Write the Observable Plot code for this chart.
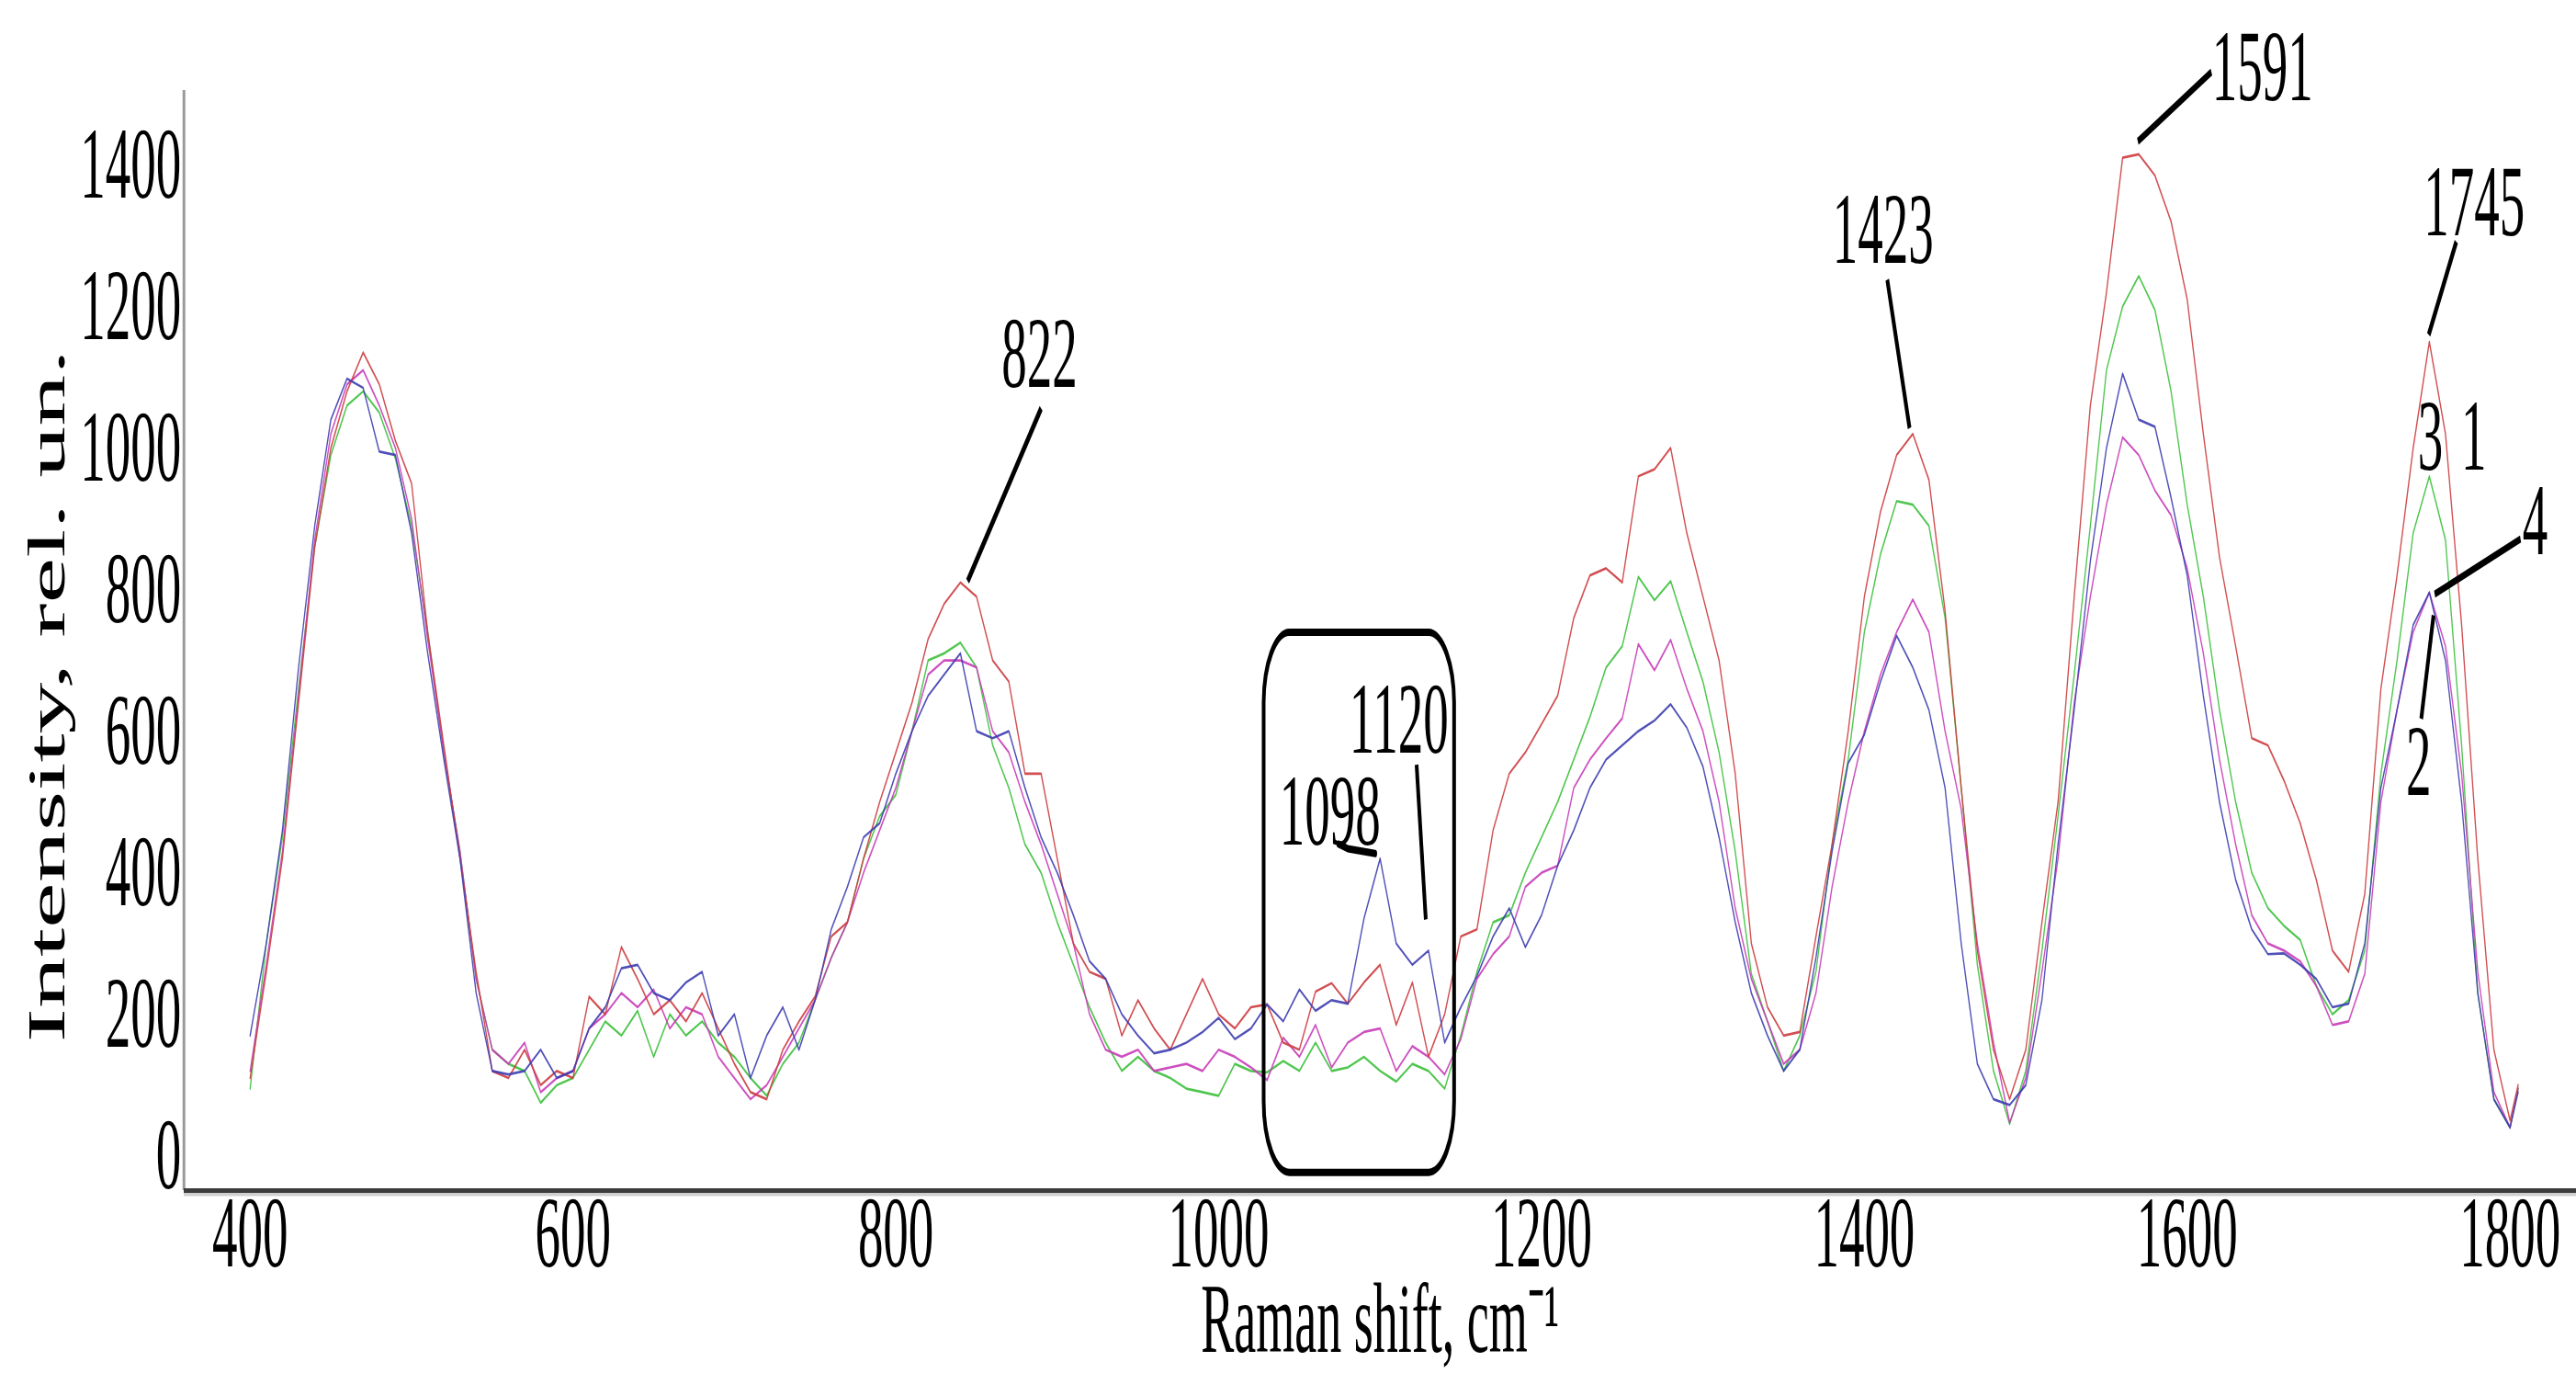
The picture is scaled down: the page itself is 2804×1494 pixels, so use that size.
<!DOCTYPE html>
<html><head><meta charset="utf-8">
<script src="https://cdn.jsdelivr.net/npm/d3@7"></script>
<script src="https://cdn.jsdelivr.net/npm/@observablehq/plot@0.6"></script>
<style>html,body{margin:0;padding:0;background:#fff;} #chart{width:2804px;height:1494px;overflow:hidden;}</style>
</head><body><div id="chart"></div>
<script>
// Raman shift grid (cm-1)
const shift = [400,410,420,430,440,450,460,470,480,490,
 500,510,520,530,540,550,560,570,580,590,
 600,610,620,630,640,650,660,670,680,690,
 700,710,720,730,740,750,760,770,780,790,
 800,810,820,830,840,850,860,870,880,890,
 900,910,920,930,940,950,960,970,980,990,
 1000,1010,1020,1030,1040,1050,1060,1070,1080,1090,
 1100,1110,1120,1130,1140,1150,1160,1170,1180,1190,
 1200,1210,1220,1230,1240,1250,1260,1270,1280,1290,
 1300,1310,1320,1330,1340,1350,1360,1370,1380,1390,
 1400,1410,1420,1430,1440,1450,1460,1470,1480,1490,
 1500,1510,1520,1530,1540,1550,1560,1570,1580,1590,
 1600,1610,1620,1630,1640,1650,1660,1670,1680,1690,
 1700,1710,1720,1730,1740,1750,1760,1770,1780,1790,
 1800,1805];

// spectrum 1 (red)
const s1 = [110,260,420,640,860,1000,1080,1135,1090,1010,
 950,740,580,420,260,120,110,150,100,120,
 110,225,200,295,250,200,220,190,230,180,
 130,90,80,150,190,225,310,330,420,500,
 570,640,730,780,810,790,700,670,540,540,
 420,300,260,250,170,220,180,150,200,250,
 200,180,210,214,160,150,232,244,215,245,
 270,185,245,140,200,310,320,460,540,570,
 610,650,760,820,830,810,960,970,1000,880,
 790,700,540,300,210,170,175,310,440,600,
 790,910,990,1020,955,770,520,290,150,80,
 150,330,500,790,1060,1220,1410,1415,1385,1320,
 1210,1020,846,720,590,580,530,470,390,290,
 260,370,660,820,1000,1150,1020,750,420,150,
 50,100];

// spectrum 2 (blue)
const s2 = [170,300,460,690,890,1040,1098,1085,995,990,
 880,710,560,420,230,120,115,120,150,110,
 120,180,210,265,270,230,220,245,260,170,
 200,110,170,210,150,220,320,380,450,470,
 540,600,650,680,710,600,590,600,520,450,
 400,340,275,250,200,170,145,150,160,175,
 195,165,180,214,190,235,205,220,215,335,
 420,300,270,290,160,210,254,310,350,295,
 340,410,460,520,560,580,600,615,638,605,
 550,450,330,230,170,120,150,280,430,555,
 595,670,735,690,630,520,300,130,80,72,
 100,220,440,630,840,1000,1105,1040,1030,930,
 820,650,500,390,320,285,286,270,250,210,
 215,300,520,630,750,796,700,500,230,80,
 40,90];

// spectrum 3 (green)
const s3 = [95,300,450,660,860,990,1060,1080,1050,985,
 890,740,570,430,250,150,130,120,75,100,
 110,150,190,170,205,140,200,170,190,160,
 140,110,85,130,160,220,280,330,420,480,
 510,600,700,710,725,690,580,520,440,400,
 330,270,210,160,120,140,120,110,95,90,
 85,130,120,118,134,120,160,120,125,140,
 120,105,130,120,95,170,260,330,340,400,
 450,500,560,620,690,720,818,785,812,740,
 670,570,430,257,190,120,170,260,440,560,
 740,850,925,920,890,760,520,270,120,45,
 120,290,480,680,890,1110,1200,1243,1195,1080,
 920,790,630,500,400,350,325,305,240,200,
 220,290,540,700,880,960,870,580,230,80,
 40,95];

// spectrum 4 (magenta)
const s4 = [120,270,430,650,870,1020,1090,1110,1060,1000,
 900,730,570,430,250,150,130,160,90,110,
 120,180,200,230,210,235,180,210,200,140,
 110,80,100,140,180,220,280,330,400,460,
 520,600,680,700,700,690,600,570,500,440,
 370,300,200,150,140,150,120,125,130,120,
 150,140,125,107,167,140,185,125,160,175,
 180,120,155,140,115,165,250,285,310,380,
 400,410,520,560,590,618,723,686,729,660,
 600,500,350,250,190,130,150,230,380,500,
 600,680,740,786,740,600,490,300,160,47,
 110,260,420,640,790,920,1015,990,940,905,
 830,710,560,440,340,300,290,275,240,185,
 190,257,500,630,740,796,720,540,260,90,
 40,95];

const xTicks = [400,600,800,1000,1200,1400,1600,1800];
const yTicks = [0,200,400,600,800,1000,1200,1400];
const seriesKeys = ["1","2","3","4"];
const seriesColors = ["#cc3b3e","#3d3db0","#3cc03c","#c83cb8"];

// peak labels (wavenumber, intensity of text baseline)
const peakLabels = [
  {label:"822", shift:889, intensity:1086},
  {label:"1098", shift:1069, intensity:440},
  {label:"1120", shift:1111.7, intensity:569},
  {label:"1423", shift:1411.6, intensity:1261},
  {label:"1591", shift:1646.7, intensity:1492},
  {label:"1745", shift:1777.8, intensity:1300},
  {label:"3", shift:1750.6, intensity:969},
  {label:"1", shift:1777.6, intensity:969},
  {label:"4", shift:1815.5, intensity:850},
  {label:"2", shift:1743.4, intensity:510}
];
const leaders = [
  {x1:890, y1:1056, x2:844.5, y2:812},
  {x1:1122.6, y1:552.6, x2:1128.3, y2:334},
  {x1:1414.2, y1:1237.7, x2:1428, y2:1028},
  {x1:1615, y1:1531, x2:1569.4, y2:1433},
  {x1:1766.7, y1:1291.4, x2:1749.6, y2:1160},
  {x1:1806.5, y1:871.4, x2:1753.3, y2:793.5},
  {x1:1752.6, y1:763.6, x2:1745, y2:617.5}
];
const kinkShift = [1074.2, 1079.9, 1097];
const kinkIntensity = [440.5, 434, 427];
const boxRegion = [{x1:1028, x2:1146, y1:-24, y2:739}];

const rows = [];
const order = [[ "3", s3 ], [ "4", s4 ], [ "1", s1 ], [ "2", s2 ]];
for (const [key, vals] of order) {
  for (let i = 0; i < shift.length; i++) rows.push({shift: shift[i], intensity: vals[i], series: key});
}
const kink = kinkShift.map((s, i) => ({shift: s, intensity: kinkIntensity[i]}));

const font = "'Liberation Serif', 'Times New Roman', serif";
const chart = Plot.plot({
  width: 5608, height: 1494,
  marginLeft: 400, marginRight: 0, marginTop: 98, marginBottom: 199,
  x: {domain: [359, 1841]},
  y: {domain: [-49, 1505]},
  color: {domain: seriesKeys, range: seriesColors},
  style: {fontFamily: font, fontSize: "110px", background: "#fff", color: "#000", overflow: "visible"},
  marks: [
    Plot.axisX({ticks: xTicks, tickSize: 0, tickPadding: 4, label: null, fontSize: 110, tickFormat: d => String(d)}),
    Plot.axisY({ticks: yTicks, tickSize: 0, tickPadding: 6, label: null, fontSize: 110, tickFormat: d => String(d)}),
    Plot.ruleX([359], {y1: -49, y2: 1505, stroke: "#9a9a9a", strokeWidth: 6}),
    Plot.ruleY([-49], {stroke: "#cfcfcf", strokeWidth: 4, dy: 4}),
    Plot.ruleY([-49], {stroke: "#3c3c3c", strokeWidth: 5}),
    Plot.line(rows, {x: "shift", y: "intensity", z: "series", stroke: "series", strokeWidth: 2.7, strokeOpacity: 0.9}),
    Plot.rect(boxRegion, {x1: "x1", x2: "x2", y1: "y1", y2: "y2", fill: "none", stroke: "#000", strokeWidth: 8, rx: 56, ry: 78}),
    Plot.link(leaders, {x1: "x1", y1: "y1", x2: "x2", y2: "y2", stroke: "#000", strokeWidth: 8}),
    Plot.line(kink, {x: "shift", y: "intensity", stroke: "#000", strokeWidth: 8}),
    Plot.text(peakLabels, {x: "shift", y: "intensity", text: "label", lineAnchor: "bottom", fontSize: 110, fill: "#000"}),
    Plot.text(["Raman shift, cm\u207B\u00B9"], {frameAnchor: "bottom", textAnchor: "middle", lineAnchor: "bottom", dy: 175, fontSize: 108, fill: "#000"}),
    Plot.text(["Intensity, rel. un."], {frameAnchor: "left", textAnchor: "middle", rotate: -90, lineAnchor: "bottom", dx: -260, dy: 60, fontSize: 112, fill: "#000"})
  ]
});
chart.setAttribute("width", 2804);
chart.setAttribute("height", 1494);
chart.setAttribute("preserveAspectRatio", "none");
chart.style.width = "2804px";
chart.style.height = "1494px";
chart.style.maxWidth = "none";
document.getElementById("chart").appendChild(chart);
</script>
</body></html>
